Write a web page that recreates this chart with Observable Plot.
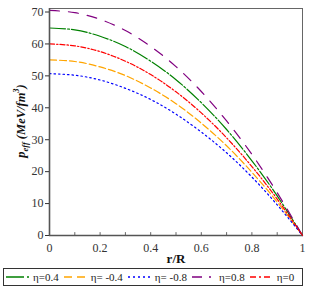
<!DOCTYPE html>
<html><head><meta charset="utf-8">
<script src="https://cdn.jsdelivr.net/npm/d3@7"></script>
<script src="https://cdn.jsdelivr.net/npm/@observablehq/plot@0.6"></script>
<style>
body{margin:0;background:#fff;font-family:"Liberation Serif","Times New Roman",serif;}
#wrap{position:relative;width:309px;height:293px;}
#chart svg text{font-family:"Liberation Serif","Times New Roman",serif !important;}
#legend{position:absolute;left:3px;top:268px;width:298px;height:16px;border:1px solid #333;display:flex;align-items:center;font-size:11px;color:#222;white-space:nowrap;}
#legend .it{display:flex;align-items:center;}
#legend svg{margin-right:4px;}
</style></head>
<body><div id="wrap"><div id="chart"></div><div id="legend"></div></div>
<script>
const r = [0, 0.1, 0.2, 0.3, 0.4, 0.5, 0.6, 0.7, 0.8, 0.9, 1.0];
const eta04  = [65.0, 64.4, 62.4, 59.2, 54.6, 48.8, 41.6, 33.2, 23.4, 12.4, 0];
const etaM04 = [55.0, 54.5, 52.8, 50.1, 46.2, 41.3, 35.2, 28.1, 19.8, 10.5, 0];
const etaM08 = [50.7, 50.2, 48.7, 46.1, 42.6, 38.0, 32.4, 25.9, 18.3, 9.6, 0];
const eta08  = [70.5, 69.8, 67.7, 64.2, 59.2, 52.9, 45.1, 35.9, 25.4, 13.4, 0];
const eta0   = [60.0, 59.4, 57.6, 54.6, 50.4, 45.0, 38.4, 30.6, 21.6, 11.4, 0];
const seriesNames = ["η=0.4", "η= -0.4", "η= -0.8", "η=0.8", "η=0"];
const seriesValues = [eta04, etaM04, etaM08, eta08, eta0];
const colors = ["#008000", "#FFA500", "#0000FF", "#800080", "#FF0000"];
const plotDash = ["16,2,2,2", "7,3", "1.5,3", "10,9", "5,2,1.5,2"];
const legendDash = ["18,3,2,3", "8,5", "2,3", "10,7,2,7", "6,3,2,3"];
const xTicks = [0, 0.2, 0.4, 0.6, 0.8, 1];
const xTickLabels = ["0", "0.2", "0.4", "0.6", "0.8", "1"];
const xMinor = [0, 0.1, 0.2, 0.3, 0.4, 0.5, 0.6, 0.7, 0.8, 0.9, 1];
const yTicks = [0, 10, 20, 30, 40, 50, 60, 70];

const rows = [];
seriesNames.forEach((s, i) => r.forEach((x, j) => rows.push({s, x, y: seriesValues[i][j]})));

const lineMarks = seriesNames.map((s, i) =>
  Plot.line(rows.filter(d => d.s === s), {x: "x", y: "y", stroke: colors[i], strokeWidth: 1.2,
    strokeDasharray: plotDash[i], curve: "natural"}));

const serif = "Liberation Serif, Times New Roman, serif";
const chart = Plot.plot({
  width: 309, height: 265,
  marginLeft: 49, marginRight: 7, marginTop: 8, marginBottom: 30,
  style: {fontFamily: serif, fontSize: "11px", color: "#333", background: "#fff"},
  x: {domain: [0, 1]},
  y: {domain: [0, 71.1]},
  marks: [
    Plot.frame({stroke: "#666", strokeWidth: 1}),
    Plot.ruleX(xMinor, {y1: 0, y2: 0.9, stroke: "#666"}),
    ...lineMarks,
    Plot.ruleX([0], {stroke: "#555", strokeWidth: 1.6}),
    Plot.ruleY([0], {stroke: "#555", strokeWidth: 1.6}),
    Plot.axisY({ticks: yTicks, tickSize: 4, tickPadding: 2, label: null, fontSize: 12, fontFamily: serif}),
    Plot.axisX({ticks: xTicks, tickSize: 0, tickPadding: 8, label: null, fontSize: 12, fontFamily: serif,
      tickFormat: d => xTickLabels[xTicks.indexOf(d)]}),
    Plot.text(["r/R"], {frameAnchor: "bottom", dy: 27, text: d => d, fontWeight: "bold", fontSize: 13, fill: "#111", fontFamily: serif})
  ]
});
document.getElementById("chart").appendChild(chart);

// y-axis label with subscript / superscript
const svg = d3.select(chart);
const t = svg.append("text")
  .attr("transform", "translate(25,121) rotate(-90)")
  .attr("text-anchor", "middle")
  .attr("font-weight", "bold").attr("font-style", "italic")
  .attr("font-size", 12.5).attr("fill", "#111");
t.append("tspan").text("p");
t.append("tspan").attr("font-size", 8.5).attr("dy", 3).text("eff");
t.append("tspan").attr("dy", -3).text(" (MeV/fm");
t.append("tspan").attr("font-size", 8.5).attr("dy", -6).text("3");
t.append("tspan").attr("dy", 6).text(")");

// legend
const leg = d3.select("#legend");
seriesNames.forEach((s, i) => {
  const it = leg.append("div").attr("class", "it").style("margin-left", (i === 0 ? 2 : 5) + "px");
  const sv = it.append("svg").attr("width", 23).attr("height", 8);
  sv.append("line").attr("x1", 0).attr("x2", 23).attr("y1", 4).attr("y2", 4)
    .attr("stroke", colors[i]).attr("stroke-width", 1.3).attr("stroke-dasharray", legendDash[i]);
  it.append("span").text(s);
});
</script></body></html>
